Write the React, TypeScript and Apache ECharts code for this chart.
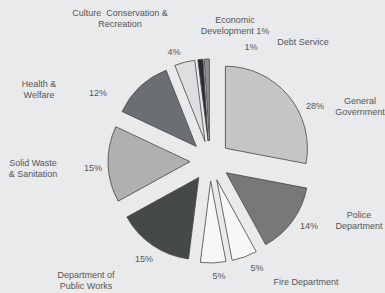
import React, { useEffect, useRef } from "react";
import * as echarts from "echarts";

const categories = [
  "General\nGovernment",
  "Police\nDepartment",
  "Fire Department",
  "",
  "Department of\nPublic Works",
  "Solid Waste\n& Sanitation",
  "Health &\nWelfare",
  "Culture  Conservation &\nRecreation",
  "Economic\nDevelopment 1%",
  "Debt Service",
];
const values = [28, 14, 5, 5, 15, 15, 12, 4, 1, 1];
const showPercent = [true, true, true, true, true, true, true, true, false, true];
const colors = [
  "#c3c5c7", "#76787a", "#f7f7f7", "#f7f7f7", "#464949",
  "#aeb0b2", "#6c6f71", "#dcdedf", "#2c2c30", "#8e8e90",
];
// label anchor positions (layout only)
const pctPos: [number, number][] = [
  [315, 106], [309, 226], [257, 268], [219, 276], [144, 259],
  [93, 168], [98, 93], [174, 52], [0, 0], [251, 47],
];
const namePos: [number, number][] = [
  [360, 106], [359, 220], [306, 282], [0, 0], [86, 280],
  [33, 168], [39, 89], [120, 18], [235, 25], [303, 42],
];

export default function App() {
  const ref = useRef<HTMLDivElement>(null);
  useEffect(() => {
    const chart = echarts.init(ref.current!, null, { renderer: "svg" });
    const textStyle = {
      fontFamily: "Liberation Sans, Arial, sans-serif",
      fontSize: 9,
      color: "#555658",
      lineHeight: 11,
    };
    const labelSeries = (fmt: (p: any) => string, pos: [number, number][]) => ({
      type: "pie",
      center: [210, 161],
      radius: [0, 82],
      startAngle: 90,
      clockwise: true,
      silent: true,
      itemStyle: { color: "rgba(0,0,0,0)", borderWidth: 0 },
      label: { show: true, ...textStyle, formatter: fmt },
      labelLine: { show: false },
      labelLayout: (p: any) => ({
        x: pos[p.dataIndex][0],
        y: pos[p.dataIndex][1],
        align: "center",
        verticalAlign: "middle",
      }),
      data: values.map((v, i) => ({ name: categories[i], value: v })),
      z: 1,
    });
    chart.setOption({
      animation: false,
      backgroundColor: "#e9eaec",
      series: [
        {
          type: "pie",
          center: [210, 161],
          radius: [0, 82],
          startAngle: 90,
          clockwise: true,
          selectedMode: "multiple",
          selectedOffset: 20,
          silent: true,
          itemStyle: { borderColor: "#4a4347", borderWidth: 0.8 },
          label: { show: false },
          labelLine: { show: false },
          data: values.map((v, i) => ({
            name: categories[i],
            value: v,
            selected: true,
            itemStyle: { color: colors[i] },
          })),
          z: 2,
        },
        labelSeries((p: any) => (showPercent[p.dataIndex] ? p.value + "%" : ""), pctPos),
        labelSeries((p: any) => p.name, namePos),
      ],
    });
    return () => chart.dispose();
  }, []);
  return (
    <div
      ref={ref}
      style={{ position: "fixed", left: 0, top: 0, width: 385, height: 293 }}
    />
  );
}
